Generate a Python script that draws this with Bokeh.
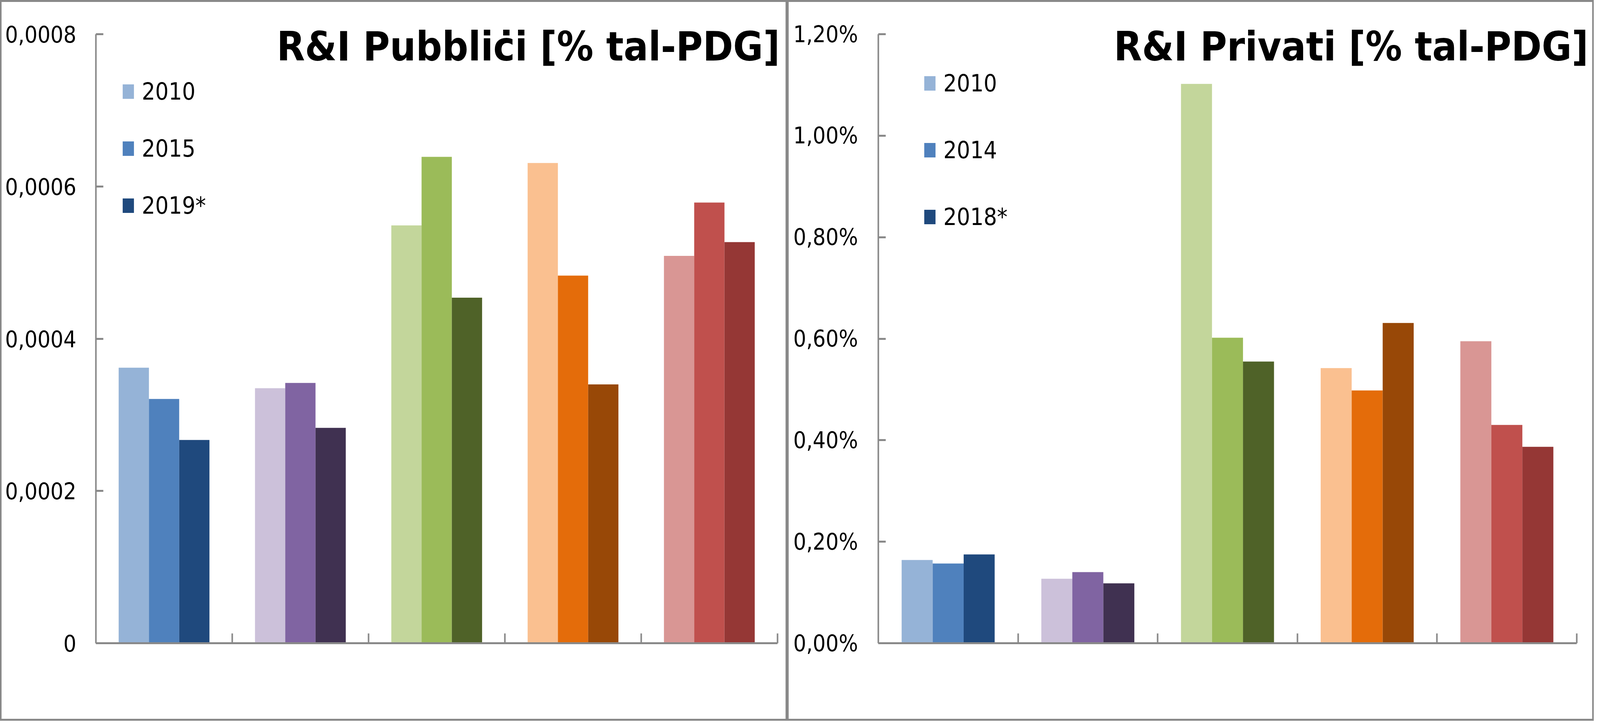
from bokeh.plotting import figure
from bokeh.models import (FixedTicker, Label, Legend, LegendItem, ColumnDataSource, Range1d)
from bokeh.layouts import row
from bokeh.embed import file_html
from bokeh.resources import INLINE

# ---------------- data ----------------
categories = ["G1", "G2", "G3", "G4", "G5"]

pub_years = ["2010", "2015", "2019*"]
pub_2010 = [0.000362, 0.000335, 0.000549, 0.000631, 0.000509]
pub_2015 = [0.000321, 0.000342, 0.000639, 0.000483, 0.000579]
pub_2019 = [0.000267, 0.000283, 0.000454, 0.000340, 0.000527]

priv_years = ["2010", "2014", "2018*"]
priv_2010 = [0.164, 0.127, 1.102, 0.542, 0.595]
priv_2014 = [0.157, 0.140, 0.602, 0.498, 0.430]
priv_2018 = [0.175, 0.118, 0.555, 0.631, 0.387]

pub_ticks = [0, 0.0002, 0.0004, 0.0006, 0.0008]
pub_tick_labels = ["0", "0,0002", "0,0004", "0,0006", "0,0008"]
priv_ticks = [0, 0.2, 0.4, 0.6, 0.8, 1.0, 1.2]
priv_tick_labels = ["0,00%", "0,20%", "0,40%", "0,60%", "0,80%", "1,00%", "1,20%"]

# colour shades per category (light, mid, dark)
shades = [
    ["#95B3D7", "#4F81BD", "#1F497D"],
    ["#CCC1DA", "#8064A2", "#403151"],
    ["#C3D69B", "#9BBB59", "#4F6228"],
    ["#FAC090", "#E46C0A", "#984807"],
    ["#D99694", "#C0504D", "#953735"],
]

FONT = "DejaVu Sans Condensed"
AXC = "#898989"
BAR_W = 0.222
BX, BY = 4, 5          # panel border widths (left/right, top/bottom)
H = 1845
TITLE_FS = 104
TICK_FS = 58
LEG_FS = 60


def make_panel(title, years, series, ticks, tick_labels, ymax,
               panel_left, w, frame_left, x5_abs, frame_right,
               y_top_abs, y0_abs, frame_top, title_base, title_dx,
               leg_xy, leg_spacing, standoff):
    """Geometry given in absolute page px."""
    canvas_left = panel_left + BX
    canvas_right = panel_left + w - BX
    canvas_top = 8 + BY
    canvas_bottom = 8 + H - BY
    mbl = frame_left - canvas_left
    mbr = canvas_right - frame_right
    mbt = frame_top - canvas_top
    mbb = canvas_bottom - y0_abs
    n = len(categories)
    x_end = n * (frame_right - frame_left) / (x5_abs - frame_left)
    y_end = ymax * (y0_abs - frame_top) / (y0_abs - y_top_abs)

    p = figure(width=w, height=H, output_backend="svg", toolbar_location=None,
               x_range=Range1d(0, x_end), y_range=Range1d(0, y_end),
               min_border_left=mbl, min_border_right=mbr,
               min_border_top=mbt, min_border_bottom=mbb,
               styles={"border-style": "solid", "border-color": AXC,
                       "border-width": "%dpx %dpx" % (BY, BX),
                       "box-sizing": "border-box"})
    p.outline_line_color = None
    p.xgrid.visible = False
    p.ygrid.visible = False

    items = []
    for k, (yr, vals) in enumerate(zip(years, series)):
        xs = [i + 0.5 + (k - 1) * BAR_W for i in range(n)]
        cols = [shades[i][k] for i in range(n)]
        src = ColumnDataSource(dict(x=xs, top=vals, color=cols, cat=categories))
        r = p.vbar(x="x", top="top", width=BAR_W, bottom=0, source=src,
                   fill_color="color", line_color=None)
        items.append(LegendItem(label=yr, renderers=[r], index=0))

    # y axis
    ya = p.yaxis[0]
    ya.bounds = (0, ymax)
    ya.ticker = FixedTicker(ticks=ticks)
    ya.major_label_overrides = {t: l for t, l in zip(ticks, tick_labels)}
    ya.axis_line_color = AXC
    ya.axis_line_width = 4
    ya.major_tick_line_color = AXC
    ya.major_tick_line_width = 5
    ya.major_tick_in = 19
    ya.major_tick_out = 0
    ya.minor_tick_line_color = None
    ya.major_label_standoff = standoff
    ya.major_label_text_font = FONT
    ya.major_label_text_font_size = "%dpx" % TICK_FS
    ya.major_label_text_color = "black"

    # x axis (ticks at category boundaries, no labels)
    xt = list(range(1, n + 1))
    xa = p.xaxis[0]
    xa.bounds = (0, n)
    xa.ticker = FixedTicker(ticks=xt)
    xa.major_label_overrides = {t: "" for t in xt}
    xa.axis_line_color = AXC
    xa.axis_line_width = 5
    xa.major_tick_line_color = AXC
    xa.major_tick_line_width = 4
    xa.major_tick_in = 25
    xa.major_tick_out = 0
    xa.minor_tick_line_color = None

    legend = Legend(items=items, location=leg_xy,
                    glyph_width=36, glyph_height=46,
                    label_text_font=FONT, label_text_font_size="%dpx" % LEG_FS,
                    label_text_color="black", label_standoff=17,
                    spacing=leg_spacing, padding=0, margin=0,
                    border_line_color=None, background_fill_alpha=0)
    p.add_layout(legend, "center")

    # title (anchor corrected for the renderer's baseline shift)
    anchor_abs = title_base - 0.385 * TITLE_FS
    ty = ymax * (y0_abs - anchor_abs) / (y0_abs - y_top_abs)
    p.add_layout(Label(x=n, y=ty, x_offset=title_dx,
                       text=title, text_align="right", text_baseline="alphabetic",
                       text_font=FONT, text_font_style="bold",
                       text_font_size="%dpx" % TITLE_FS, text_color="black"))
    return p


p1 = make_panel("R&I Pubbliċi [% tal-PDG]", pub_years, [pub_2010, pub_2015, pub_2019],
                pub_ticks, pub_tick_labels, 0.0008,
                panel_left=8, w=2015, frame_left=253, x5_abs=1990, frame_right=2010,
                y_top_abs=95, y0_abs=1644, frame_top=20, title_base=166, title_dx=6,
                leg_xy=(65, 1085), leg_spacing=76, standoff=50)
p2 = make_panel("R&I Privati [% tal-PDG]", priv_years, [priv_2010, priv_2014, priv_2018],
                priv_ticks, priv_tick_labels, 1.2,
                panel_left=2023, w=2065, frame_left=2256, x5_abs=4036, frame_right=4078,
                y_top_abs=95, y0_abs=1654, frame_top=20, title_base=167, title_dx=30,
                leg_xy=(114, 1056), leg_spacing=101, standoff=52)

layout = row(p1, p2, spacing=0)

open("out.html", "w").write(file_html(layout, INLINE))
